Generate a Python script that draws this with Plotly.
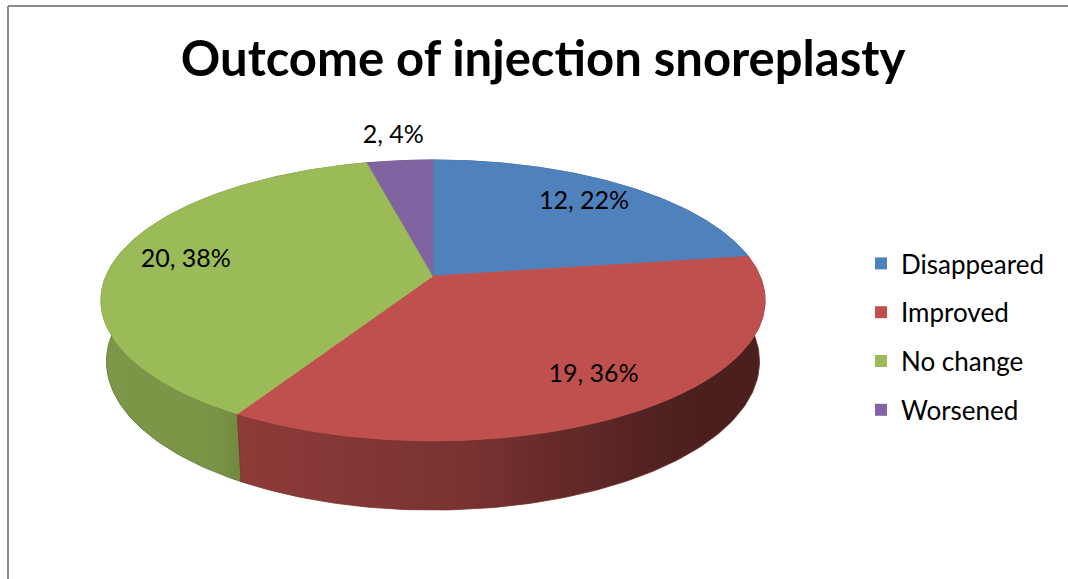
import numpy as np
import plotly.graph_objects as go

# ---------------- data ----------------
categories = ["Disappeared", "Improved", "No change", "Worsened"]
counts = [12, 19, 20, 2]
percent_labels = [22, 36, 38, 4]
top_colors = ["#4F81BD", "#C0504D", "#9BBB59", "#8064A2"]
chart_title = "Outcome of injection snoreplasty"

# ---------------- geometry (pixel space, perspective pie) ----------------
W, H_PX = 1068, 579
CX, CY = 433, 276          # projected centre of pie top
A = 327.0                  # horizontal scale
B = 136.2                  # vertical scale
K = 0.174                  # perspective strength
DEPTH = 0.205              # pie thickness (radius units)
SIN_E = B / A
COS_E = np.sqrt(1 - SIN_E ** 2)
DR = COS_E / K

FONT = "Lato, Carlito, Calibri, sans-serif"


def proj(r, theta, z=0.0):
    X = r * np.sin(theta)
    Y = r * np.cos(theta)
    up = Y * SIN_E + z * COS_E
    d = 1 + K * Y - z * SIN_E / DR
    return CX + A * X / d, CY - A * up / d


def hex_rgb(h):
    h = h.lstrip("#")
    return np.array([int(h[i:i + 2], 16) for i in (0, 2, 4)], dtype=float)


def shade(hexcol, f):
    c = np.clip(hex_rgb(hexcol) * f, 0, 255).astype(int)
    return "rgb(%d,%d,%d)" % tuple(c)


def side_factor(x):
    return np.interp(x, [100, 236, 240, 470, 680, 770],
                     [0.81, 0.79, 0.74, 0.63, 0.40, 0.39])


total = float(sum(counts))
fracs = np.array(counts) / total
edges = np.concatenate([[0], np.cumsum(fracs)]) * 2 * np.pi

fig = go.Figure()

# ---- side walls (back to front) ----
order = sorted(range(len(counts)),
               key=lambda i: -np.cos((edges[i] + edges[i + 1]) / 2))
for i in order:
    t = np.linspace(edges[i], edges[i + 1], 120)
    xt, yt = proj(1.0, t)
    xb, yb = proj(1.0, t[::-1], -DEPTH)
    xs = np.concatenate([xt, xb, xt[:1]])
    ys = np.concatenate([yt, yb, yt[:1]])
    stops = np.linspace(0, W, 41)
    cs = [[s / W, shade(top_colors[i], side_factor(s))] for s in stops]
    fig.add_trace(go.Scatter(
        x=xs, y=ys, mode="lines", fill="toself",
        line=dict(width=0.8, color=shade(top_colors[i], 0.6)),
        fillgradient=dict(type="horizontal", colorscale=cs, start=0, stop=W),
        hoverinfo="skip", showlegend=False))

# ---- top faces ----
for i in range(len(counts)):
    t = np.linspace(edges[i], edges[i + 1], 160)
    xt, yt = proj(1.0, t)
    xs = np.concatenate([[CX], xt, [CX]])
    ys = np.concatenate([[CY], yt, [CY]])
    fig.add_trace(go.Scatter(
        x=xs, y=ys, mode="lines", fill="toself",
        fillcolor=top_colors[i],
        line=dict(width=0.8, color=top_colors[i]),
        hoverinfo="skip", showlegend=False))

# ---- data labels ----
lx, ly, lt = [], [], []
for i in range(len(counts)):
    mid = (edges[i] + edges[i + 1]) / 2
    r = 0.78 if fracs[i] > 0.05 else 1.25
    x, y = proj(r, mid)
    lx.append(x)
    ly.append(y)
    lt.append("%d, %d%%" % (counts[i], percent_labels[i]))
fig.add_trace(go.Scatter(
    x=lx, y=ly, mode="text", text=lt,
    textfont=dict(family=FONT, size=25, color="#000000"),
    hoverinfo="skip", showlegend=False))

# ---- legend entries ----
for i, c in enumerate(categories):
    fig.add_trace(go.Scatter(
        x=[None], y=[None], mode="markers", name=c, legendgroup=c,
        marker=dict(symbol="square", size=12, color=top_colors[i])))

fig.update_layout(
    width=W, height=H_PX,
    margin=dict(l=0, r=0, t=0, b=0),
    paper_bgcolor="white", plot_bgcolor="white",
    xaxis=dict(range=[0, W], visible=False, fixedrange=True),
    yaxis=dict(range=[H_PX, 0], visible=False, fixedrange=True),
    title=dict(text=chart_title, x=543 / W, xanchor="center",
               y=1 - 59 / H_PX, yanchor="middle",
               font=dict(family=FONT, size=49, color="#000000", weight="bold")),
    legend=dict(x=861 / W, y=1 - 240 / H_PX, xanchor="left", yanchor="top",
                font=dict(family=FONT, size=26, color="#000000"),
                tracegroupgap=12, bgcolor="rgba(0,0,0,0)"),
    shapes=[
        dict(type="line", xref="x", yref="y", x0=8, y0=6, x1=W, y1=6,
             line=dict(color="#8C8C8C", width=2)),
        dict(type="line", xref="x", yref="y", x0=8, y0=6, x1=8, y1=H_PX,
             line=dict(color="#8C8C8C", width=2)),
    ],
)

fig.write_html("out.html",
               config={"displayModeBar": False},
               post_script="document.body.style.margin='0';"
                           "document.body.style.padding='0';")
